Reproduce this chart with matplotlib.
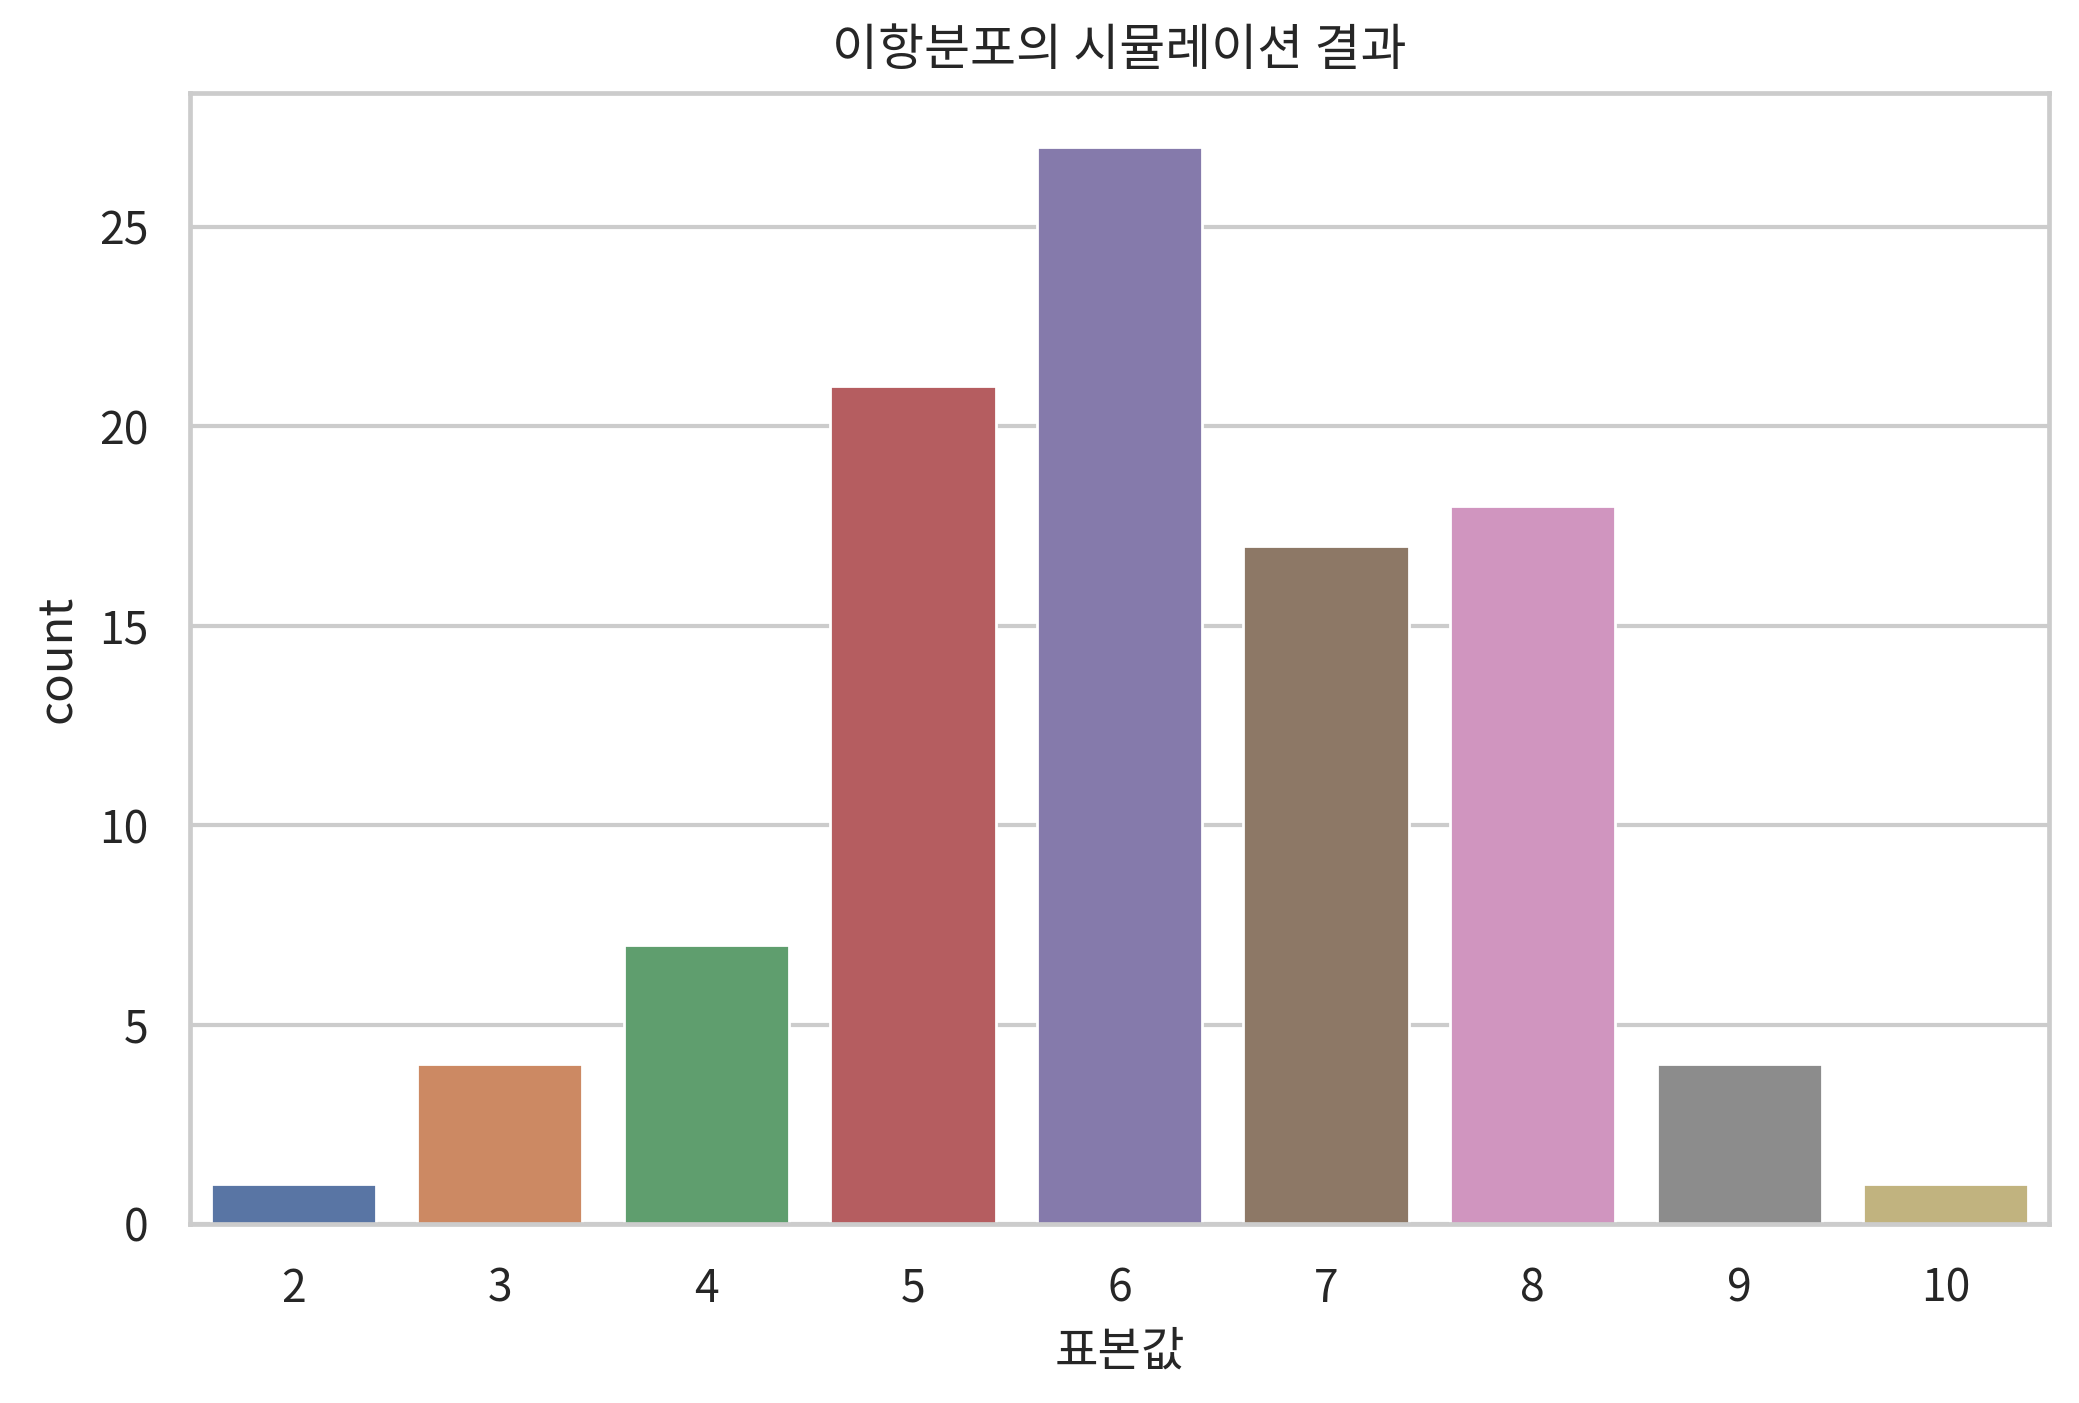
import numpy as np
import matplotlib.pyplot as plt
import seaborn as sns

# sample values and how often each appeared
values = ['2', '3', '4', '5', '6', '7', '8', '9', '10']
counts = [1, 4, 7, 21, 27, 17, 18, 4, 1]

sns.set_theme(style='whitegrid')
plt.rcParams['font.family'] = ['Noto Sans CJK KR', 'DejaVu Sans']

fig = plt.figure(figsize=(10.395, 7.015), dpi=200)
ax = fig.add_axes([190 / 2079, 1 - 1224 / 1403, (2049 - 190) / 2079, (1224 - 93) / 1403])

colors = [sns.desaturate(c, 0.75) for c in sns.color_palette('deep', len(values))]
ax.bar(range(len(values)), counts, width=0.8, color=colors)
ax.set_xticks(range(len(values)))
ax.set_xticklabels(values)
ax.set_xlim(-0.5, len(values) - 0.5)
ax.set_ylim(0, max(counts) * 1.05)
ax.set_axisbelow(True)
ax.xaxis.grid(False)
ax.yaxis.grid(True, linewidth=1.5)
ax.tick_params(labelsize=16, pad=9)
for s in ax.spines.values():
    s.set_linewidth(1.7)

ax.set_title('이항분포의 시뮬레이션 결과', fontsize=18, pad=10)
ax.set_xlabel('표본값', fontsize=17, labelpad=6)
ax.set_ylabel('count', fontsize=17, labelpad=6)

fig.savefig('out.png', dpi=200)
